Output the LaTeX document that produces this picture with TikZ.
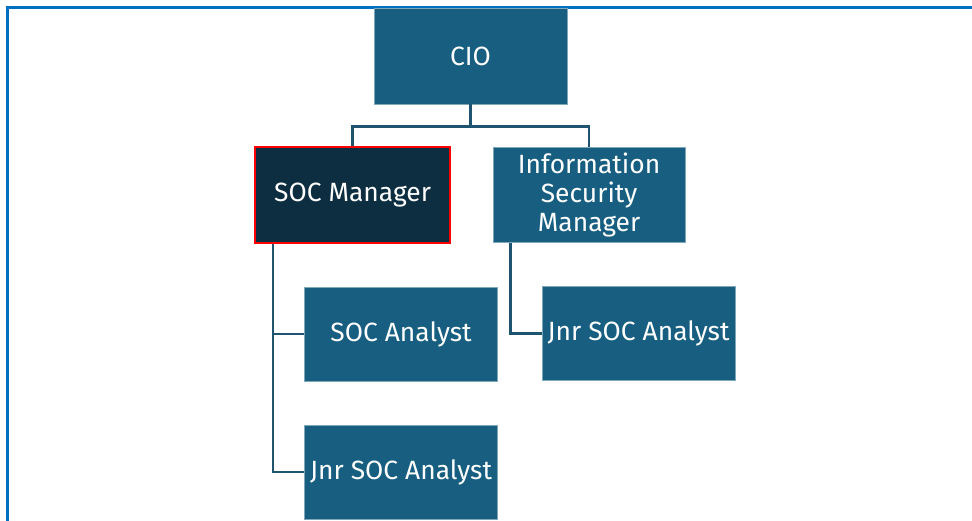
\documentclass[tikz,border=0pt]{standalone}
\usepackage{fontspec}
\setmainfont{Fira Sans}
\usetikzlibrary{calc,
                positioning}
\definecolor{boxblue}{RGB}{23,94,128}
\definecolor{mgrdark}{RGB}{12,46,64}
\definecolor{linkblue}{RGB}{31,84,112}
\definecolor{frameblue}{RGB}{0,112,192}

\begin{document}
\begin{tikzpicture}[
node distance = 104.25pt and 36.4pt, on grid,
every node/.style = {rectangle, inner sep=0pt, align=center, text=white,
                     font=\fontsize{19.8}{21.75}\selectfont},
role/.style = {fill=boxblue, draw=boxblue!55!white, line width=0.5pt,
               minimum width=145pt, minimum height=70.5pt},
boss/.style = {fill=mgrdark, draw=red, line width=1.5pt,
               minimum width=146.25pt, minimum height=72pt},
link/.style = {draw=linkblue, line width=1.9pt},
frame/.style = {draw=frameblue, line width=2.25pt}
                        ]
    \useasboundingbox (0,0) rectangle (729pt,-390.75pt);
    \draw[frame] (5.25pt,-390.75pt) -- (5.25pt,-5.25pt) -- (729pt,-5.25pt);

    \node[role, minimum height=72pt] (cio) at (352.9pt,-42pt) {CIO};
    \node[boss] (mgr) [below left=104.25pt and 88.5pt of cio] {SOC Manager};
    \node[role, minimum width=144pt, minimum height=71.25pt] (ism)
          [right=177.4pt of mgr] {Information\\Security\\Manager};
    \node[role] (ana) [below right=of mgr] {SOC Analyst};
    \node[role] (jnr) [below=103.5pt of ana] {Jnr SOC Analyst};
    \node[role] (jnrb) [below right=103.9pt and 37.1pt of ism] {Jnr SOC Analyst};

    \coordinate (bus) at ($(cio.south)+(0,-16.5pt)$);
    \draw[link] (cio.south) -- (bus);
    \draw[link] (mgr.north) |- (bus) -| (ism.north);
    \draw[link] ([xshift=14.25pt]mgr.south west) |- (ana.west);
    \draw[link] ([xshift=14.25pt]mgr.south west) |- (jnr.west);
    \draw[link] ([xshift=13.5pt]ism.south west) |- (jnrb.west);
\end{tikzpicture}
\end{document}
